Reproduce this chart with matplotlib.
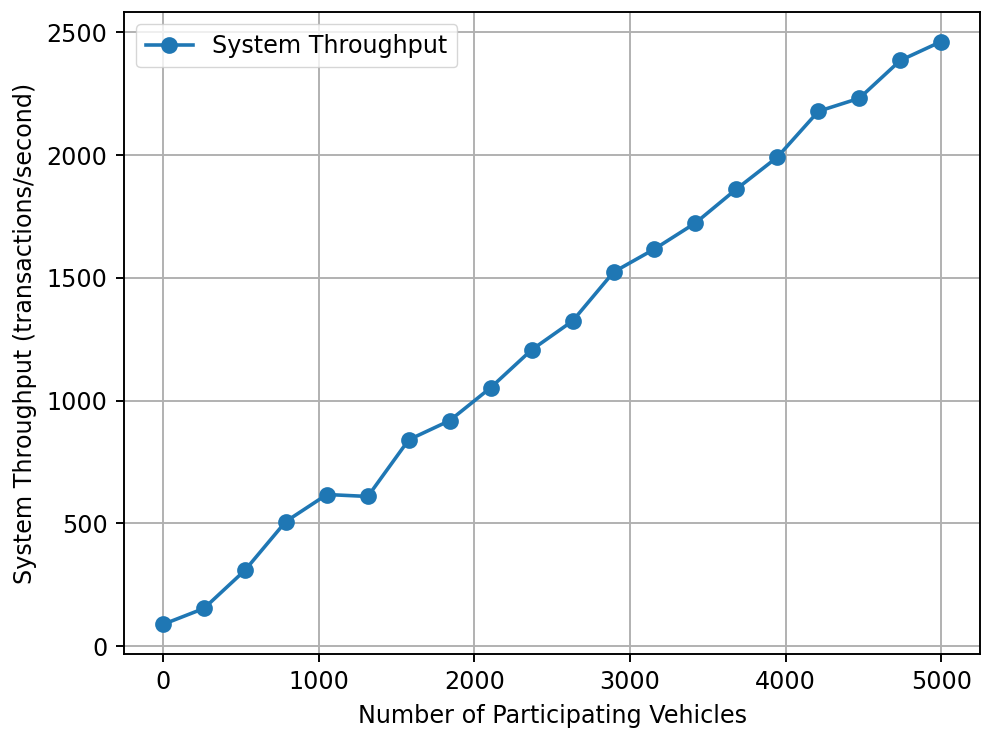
import matplotlib
matplotlib.use("Agg")
from matplotlib import pyplot as plt

# Data
vehicles = [0, 263, 526, 789, 1053, 1316, 1579, 1842, 2105, 2368,
            2632, 2895, 3158, 3421, 3684, 3947, 4211, 4474, 4737, 5000]
throughput = [89, 154, 309, 508, 618, 610, 841, 919, 1053, 1207,
              1325, 1524, 1618, 1724, 1862, 1992, 2179, 2232, 2386, 2463]

# the reference is a default-style plot scaled up
s = 1.72
plt.rcParams.update({
    "font.size": 10 * s,
    "lines.linewidth": 1.5 * s,
    "lines.markersize": 6 * s,
    "lines.markeredgewidth": 1.0 * s,
    "axes.linewidth": 0.8 * s,
    "grid.linewidth": 0.8 * s,
    "xtick.major.size": 3.5 * s,
    "ytick.major.size": 3.5 * s,
    "xtick.major.width": 0.8 * s,
    "ytick.major.width": 0.8 * s,
    "xtick.major.pad": 3.5 * s,
    "ytick.major.pad": 3.5 * s,
    "axes.labelpad": 4 * s,
})

fig, ax = plt.subplots(figsize=(9.85, 7.31), dpi=100)
ax.plot(vehicles, throughput, marker="o", label="System Throughput")
ax.set_xlabel("Number of Participating Vehicles")
ax.set_ylabel("System Throughput (transactions/second)")
ax.legend(loc="upper left")
ax.grid()
fig.subplots_adjust(left=0.126, right=0.995, bottom=0.106, top=0.983)
fig.savefig("out.png")
